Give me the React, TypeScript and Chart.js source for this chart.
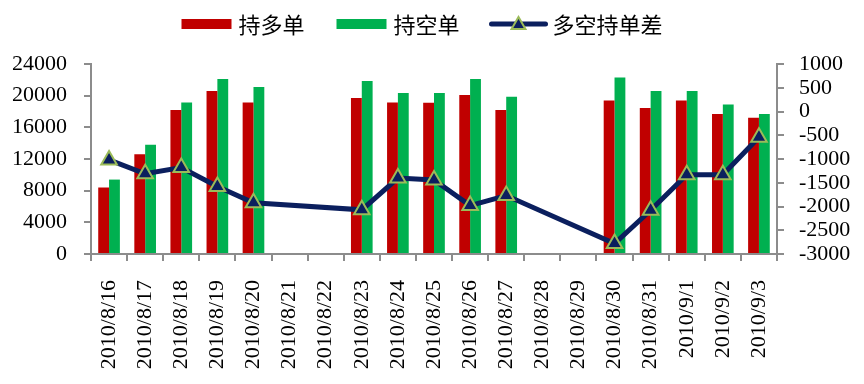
import { useEffect, useRef } from "react";
import { Chart, registerables } from "chart.js";

Chart.register(...registerables);

const dates = [
  "2010/8/16", "2010/8/17", "2010/8/18", "2010/8/19", "2010/8/20", "2010/8/21", "2010/8/22",
  "2010/8/23", "2010/8/24", "2010/8/25", "2010/8/26", "2010/8/27", "2010/8/28", "2010/8/29",
  "2010/8/30", "2010/8/31", "2010/9/1", "2010/9/2", "2010/9/3",
];
const longPos = [8400, 12600, 18200, 20600, 19150, null, null, 19700, 19150, 19100, 20100, 18200, null, null, 19400, 18450, 19400, 17700, 17200];
const shortPos = [9400, 13800, 19150, 22100, 21100, null, null, 21850, 20350, 20350, 22100, 19850, null, null, 22300, 20600, 20600, 18900, 17700];
const diff = [-1020, -1310, -1180, -1580, -1920, null, null, -2070, -1400, -1440, -1980, -1770, null, null, -2780, -2080, -1330, -1330, -540];
const leftTicks = [0, 4000, 8000, 12000, 16000, 20000, 24000];
const rightTicks = [-3000, -2500, -2000, -1500, -1000, -500, 0, 500, 1000];

const RED = "#C00000";
const GREEN = "#00B050";
const NAVY = "#0B1F5E";
const OLIVE = "#9BBB59";
const AXIS = "#8C8C8C";
const TICK_FONT = { family: '"Liberation Serif", "Times New Roman", serif', size: 22 };
const LEGEND_FONT = '22px "Noto Sans CJK SC", sans-serif';

function drawTriangle(ctx: CanvasRenderingContext2D, x: number, y: number, r: number) {
  ctx.beginPath();
  for (let i = 0; i < 3; i++) {
    const a = -Math.PI / 2 + (i * 2 * Math.PI) / 3;
    const px = x + Math.cos(a) * r;
    const py = y + Math.sin(a) * r;
    if (i === 0) ctx.moveTo(px, py);
    else ctx.lineTo(px, py);
  }
  ctx.closePath();
  ctx.fillStyle = NAVY;
  ctx.fill();
  ctx.lineWidth = 2;
  ctx.strokeStyle = OLIVE;
  ctx.stroke();
}

const legendPlugin = {
  id: "customLegend",
  afterDraw(chart: any) {
    const ctx: CanvasRenderingContext2D = chart.ctx;
    ctx.save();
    ctx.font = LEGEND_FONT;
    ctx.textBaseline = "middle";
    ctx.textAlign = "left";
    const boxW = 50;
    const lineW = 54;
    const gap = 7;
    const itemGap = 32;
    const ds = chart.data.datasets;
    const widths = ds.map((d: any) => (d.type === "line" ? lineW : boxW) + gap + ctx.measureText(d.label).width);
    const total = widths.reduce((a: number, b: number) => a + b, 0) + itemGap * (ds.length - 1);
    let x = chart.width / 2 - 10 - total / 2;
    const y = 24;
    ds.forEach((d: any, i: number) => {
      if (d.type === "line") {
        ctx.beginPath();
        ctx.moveTo(x, y);
        ctx.lineTo(x + lineW, y);
        ctx.lineWidth = 5;
        ctx.lineCap = "round";
        ctx.strokeStyle = NAVY;
        ctx.stroke();
        drawTriangle(ctx, x + lineW / 2, y + 1, 8);
        ctx.fillStyle = "#000";
        ctx.fillText(d.label, x + lineW + gap, y + 1);
      } else {
        ctx.fillStyle = d.backgroundColor;
        ctx.fillRect(x, y - 5, boxW, 10);
        ctx.fillStyle = "#000";
        ctx.fillText(d.label, x + boxW + gap, y + 1);
      }
      x += widths[i] + itemGap;
    });
    ctx.restore();
  },
};

const plainLabel = (v: any) => String(v);

export default function App() {
  const canvasRef = useRef<HTMLCanvasElement | null>(null);

  useEffect(() => {
    if (!canvasRef.current) return;
    const chart = new Chart(canvasRef.current, {
      type: "bar",
      data: {
        labels: dates,
        datasets: [
          {
            type: "bar",
            label: "持多单",
            data: longPos,
            backgroundColor: RED,
            yAxisID: "y",
            order: 1,
            categoryPercentage: 0.6,
            barPercentage: 1,
          },
          {
            type: "bar",
            label: "持空单",
            data: shortPos,
            backgroundColor: GREEN,
            yAxisID: "y",
            order: 1,
            categoryPercentage: 0.6,
            barPercentage: 1,
          },
          {
            type: "line",
            label: "多空持单差",
            data: diff,
            borderColor: NAVY,
            borderWidth: 5,
            pointStyle: "triangle",
            pointRadius: 9,
            pointBackgroundColor: NAVY,
            pointBorderColor: OLIVE,
            pointBorderWidth: 2,
            spanGaps: true,
            tension: 0,
            yAxisID: "y1",
            order: 0,
          },
        ] as any,
      },
      options: {
        responsive: false,
        animation: false,
        layout: { padding: { top: 64, left: 0, right: 0, bottom: 0 } },
        plugins: {
          legend: { display: false },
          tooltip: { enabled: false },
        },
        scales: {
          x: {
            afterFit: (s: any) => {
              s.paddingLeft = 0;
              s.paddingRight = 0;
              s.height = 130;
            },
            grid: { drawOnChartArea: false, drawTicks: true, tickLength: 7, color: AXIS, lineWidth: 2, offset: true },
            border: { color: AXIS, width: 2 },
            ticks: {
              autoSkip: false,
              minRotation: 90,
              maxRotation: 90,
              padding: 19,
              color: "#000",
              font: TICK_FONT,
            },
          },
          y: {
            position: "left",
            min: 0,
            max: 24000,
            afterBuildTicks: (s: any) => {
              s.ticks = leftTicks.map((v) => ({ value: v }));
            },
            afterFit: (s: any) => {
              s.width = 91;
            },
            grid: { drawOnChartArea: false, drawTicks: true, tickLength: 7, color: AXIS, lineWidth: 2 },
            border: { color: AXIS, width: 2 },
            ticks: { autoSkip: false, padding: 17, color: "#000", font: TICK_FONT, callback: plainLabel },
          },
          y1: {
            position: "right",
            min: -3000,
            max: 1000,
            afterBuildTicks: (s: any) => {
              s.ticks = rightTicks.map((v) => ({ value: v }));
            },
            afterFit: (s: any) => {
              s.width = 87;
            },
            grid: { drawOnChartArea: false, drawTicks: true, tickLength: 7, color: AXIS, lineWidth: 2 },
            border: { color: AXIS, width: 2 },
            ticks: { autoSkip: false, padding: 15, color: "#000", font: TICK_FONT, callback: plainLabel },
          },
        },
      },
      plugins: [legendPlugin],
    });
    return () => chart.destroy();
  }, []);

  return (
    <div style={{ position: "absolute", left: 0, top: 0, width: 864, height: 384, background: "#fff" }}>
      <canvas ref={canvasRef} width={864} height={384} style={{ width: 864, height: 384 }} />
    </div>
  );
}
